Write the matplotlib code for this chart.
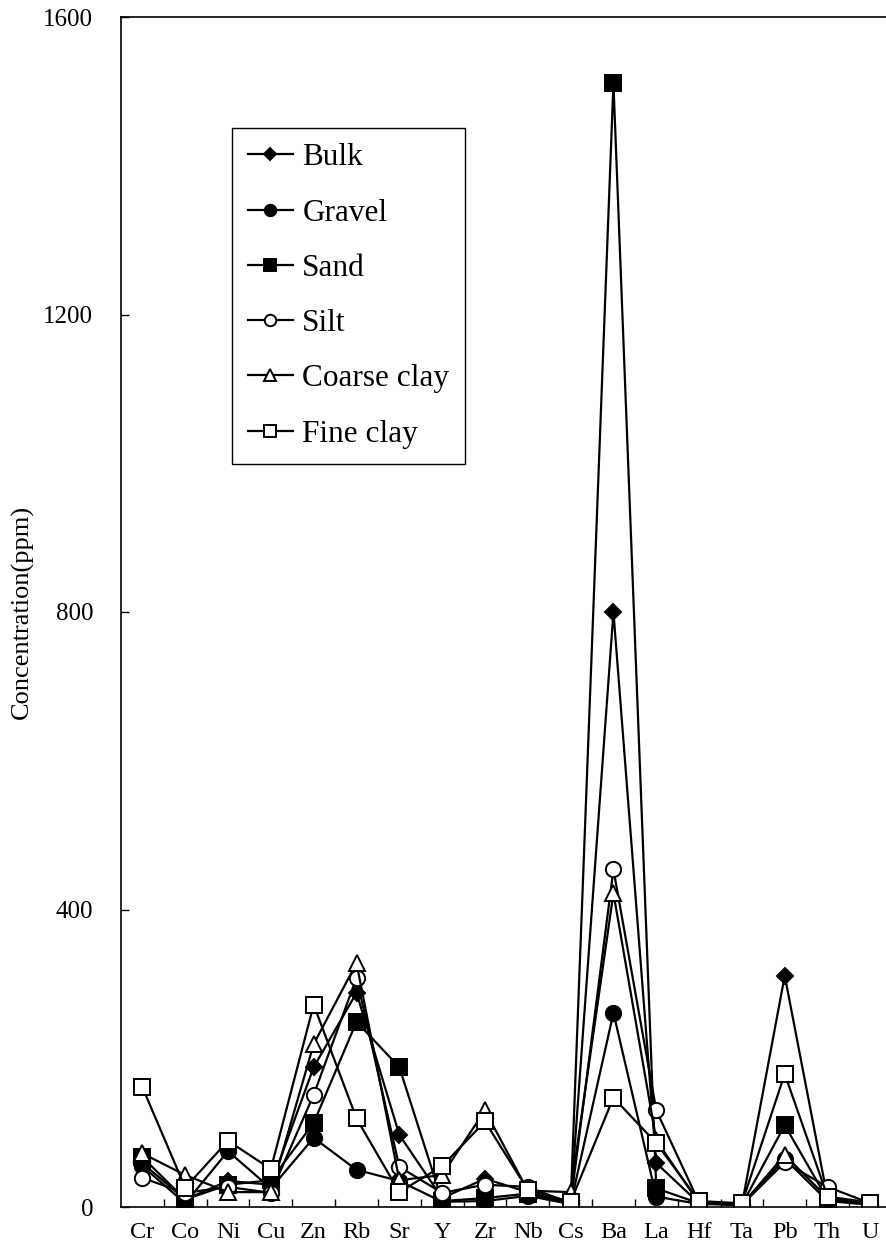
import numpy as np
import matplotlib.pyplot as plt

plt.rcParams['font.family'] = ['Liberation Serif', 'DejaVu Serif']

# element concentrations (ppm)
elements = ['Cr', 'Co', 'Ni', 'Cu', 'Zn', 'Rb', 'Sr', 'Y', 'Zr', 'Nb',
            'Cs', 'Ba', 'La', 'Hf', 'Ta', 'Pb', 'Th', 'U']
bulk = [59, 10, 35, 30, 188, 288, 97, 12, 38, 20, 5, 800, 59, 5, 3, 311, 12, 4]
gravel = [55, 5, 75, 25, 93, 50, 35, 7, 8, 15, 4, 261, 14, 4, 3, 65, 8, 3]
sand = [67, 10, 30, 36, 113, 249, 188, 8, 12, 18, 4, 1511, 25, 5, 3, 110, 10, 4]
silt = [39, 19, 27, 19, 151, 308, 54, 19, 30, 27, 5, 454, 130, 6, 3, 60, 27, 5]
coarse_clay = [72, 43, 20, 20, 219, 328, 36, 43, 130, 22, 20, 422, 90, 5, 3, 70, 12, 5]
fine_clay = [161, 26, 89, 51, 272, 119, 20, 55, 115, 23, 7, 147, 86, 8, 5, 179, 14, 6]

x = np.arange(len(elements))

fig = plt.figure(figsize=(8.87, 12.5), dpi=100)
ax = fig.add_axes([0.1364, 0.0344, 0.869, 0.952])

# (label, data, marker, facecolor, size)
series = [
    ('Bulk', bulk, 'D', 'black', 8),
    ('Gravel', gravel, 'o', 'black', 11),
    ('Sand', sand, 's', 'black', 11),
    ('Silt', silt, 'o', 'white', 11),
    ('Coarse clay', coarse_clay, '^', 'white', 11),
    ('Fine clay', fine_clay, 's', 'white', 12),
]
for label, vals, mk, fc, ms in series:
    ax.plot(x, vals, color='black', lw=1.6, marker=mk, markersize=ms,
            markerfacecolor=fc, markeredgecolor='black', markeredgewidth=1.4,
            label=label)

ax.set_xlim(-0.5, len(elements) - 0.5)
ax.set_ylim(0, 1600)
ax.set_yticks([0, 400, 800, 1200, 1600])
ax.set_xticks(x)
ax.set_xticklabels(elements)
ax.set_xticks(np.arange(0.5, len(elements) - 1, 1), minor=True)
ax.tick_params(axis='x', which='major', length=0, labelsize=17.5, pad=11)
ax.tick_params(axis='x', which='minor', direction='in', length=6, width=1)
ax.tick_params(axis='y', direction='in', length=6, width=1, labelsize=18, pad=20)
ax.set_ylabel('Concentration(ppm)', fontsize=19)
ax.yaxis.set_label_coords(-0.113, 0.5)

for s in ax.spines.values():
    s.set_linewidth(1.2)

leg = ax.legend(loc='upper left', bbox_to_anchor=(0.144, 0.907), borderaxespad=0,
                fontsize=22.5, frameon=True, fancybox=False, edgecolor='black',
                framealpha=1, handlelength=1.45, handletextpad=0.3,
                labelspacing=0.84, markerscale=0.75, borderpad=0.5)
leg.get_frame().set_linewidth(1.0)

fig.savefig('out.png', dpi=100)
